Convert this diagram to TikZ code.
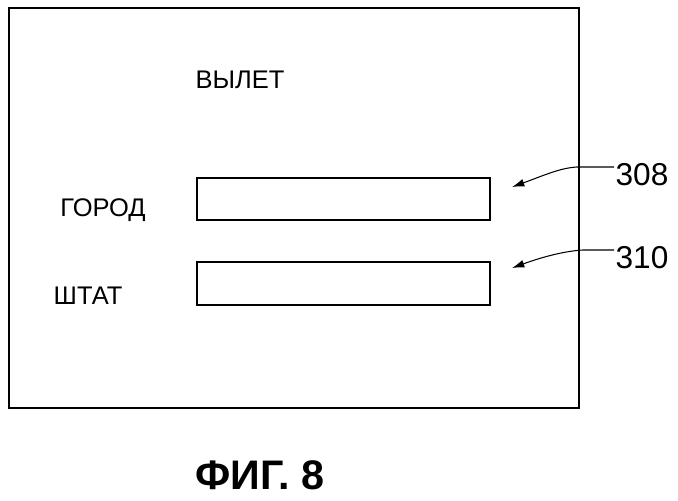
\documentclass[tikz,border=0pt]{standalone}
\usepackage{fontspec}
\setmainfont{Liberation Sans}
\usetikzlibrary{arrows.meta}
\begin{document}
\begin{tikzpicture}[x=0.02cm,y=-0.02cm,
  field/.style={draw,line width=0.8pt},
  lbl/.style={font=\fontsize{14.5}{16}\selectfont},
  num/.style={font=\fontsize{18}{20}\selectfont},
  arr/.style={-{Latex[length=7pt,width=4.5pt]},line width=0.6pt}]
\useasboundingbox (0,0) rectangle (678,500);
\draw[line width=0.9pt] (9,8) rectangle (579,408);
\node[lbl] (title) at (240,80) {ВЫЛЕТ};
\node[lbl] (city) at (103,210) {ГОРОД};
\node[lbl] (state) at (88,296) {ШТАТ};
\node[field,minimum width=293*0.02cm,minimum height=42*0.02cm] (f1) at (343.5,199) {};
\node[field,minimum width=293*0.02cm,minimum height=43*0.02cm] (f2) at (343.5,283.5) {};
\node[num] (n308) at (642,175) {308};
\node[num] (n310) at (642,258) {310};
\coordinate (a1) at (512,187);
\coordinate (a2) at (512,268);
\draw[arr] (614,167) -- (577,167) .. controls (560,168) and (545,175) .. (a1);
\draw[arr] (614,250) -- (583,250) .. controls (566,251) and (545,256) .. (a2);
\node[font=\bfseries\fontsize{23.5}{27}\selectfont] (fig) at (260,475) {ФИГ. 8};
\end{tikzpicture}
\end{document}
